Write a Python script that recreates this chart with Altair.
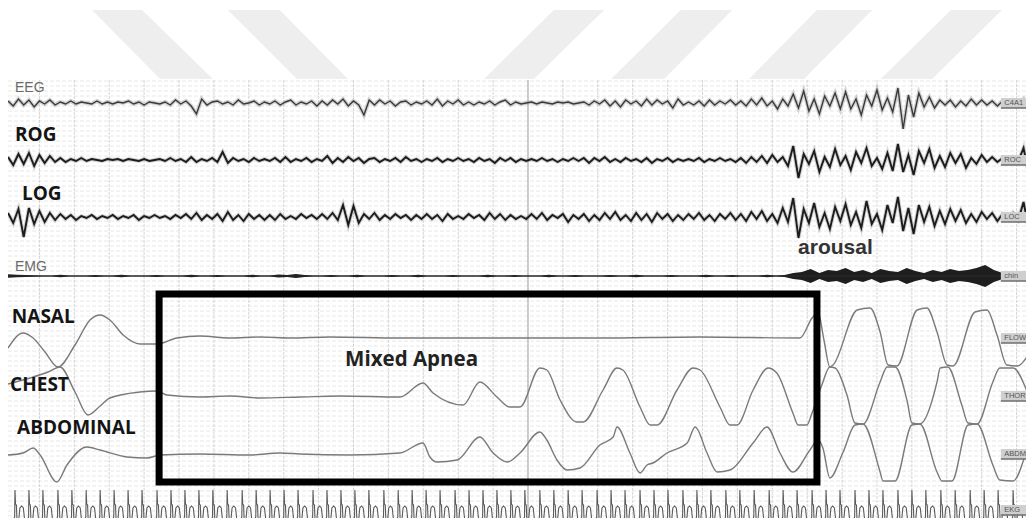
import altair as alt
import pandas as pd

# ---------------------------------------------------------------
# Polysomnography epoch (30 s) showing a mixed apnea with arousal
# x = time in seconds inside the epoch, y = montage position (downwards)
# ---------------------------------------------------------------
X_DOMAIN = [0.1, 29.27]
Y_DOMAIN = [8, 518]
W, H = 1018, 510

# channel baselines on the montage
BASE = {"EEG": 103, "ROG": 160, "LOG": 217, "EMG": 276,
        "NASAL": 338, "CHEST": 396, "ABDM": 454, "ECG": 510}

# fast channels, sampled every 0.15 s starting at 0.1 s (amplitude, up = positive)
FAST_T0, FAST_DT = 0.1, 0.15
EEG = [2, -3, 4, -2, 3, -4, 2, -1, 3, -2,
       1, -1, 2, -1, 1, 0, -1, 2, -1, 1,
       -1, 1, 0, 2, -1, 1, -2, 1, 0, -1,
       1, -2, 3, -1, 2, -3, -11, 4, -2, 1,
       2, -1, 1, -2, 3, -1, 0, 2, -2, 1,
       -1, 2, -2, 1, 3, -2, 1, -1, 2, -3,
       2, -2, 3, -1, 4, -3, 2, -2, -12, 3,
       -2, 3, -1, 2, -3, 1, 2, -2, 1, -1,
       2, -2, 4, -3, 2, -1, 3, -2, 1, -2,
       1, -1, 2, -2, 1, 3, -2, 1, -1, 0,
       1, -1, 1, 0, -1, 1, 0, 1, -1, 0,
       1, -2, 2, -1, 3, -3, 2, -4, 3, -1,
       2, -3, 4, -2, 3, -1, 2, -5, 4, -2,
       1, -2, 2, -3, 3, -2, 2, -1, 3, -2,
       2, -3, 4, -2, 5, -3, 2, -6, 4, -3,
       9, -5, 12, -8, 4, -11, 7, -3, 10, -6,
       11, -6, 4, -12, 8, -3, 13, -7, 5, -9,
       15, -26, 8, -14, 10, -4, 6, -5, 3, -2,
       3, -4, 2, -3, 4, -2, 3, -2, 2, -3,
       2, -3, 3, -1, 4, -8, 3]
ROG = [3, -5, 6, -4, 7, -6, 5, -3, 4, -2,
       2, -2, 1, -1, 2, -1, 1, 0, -1, 1,
       0, 1, -1, 1, 0, -1, 1, -1, 0, 1,
       -1, 2, -1, 1, -2, 3, -2, 1, -1, 2,
       -2, 8, -3, 2, -1, 1, -2, 2, -1, 1,
       -1, 2, -2, 3, -2, 1, -1, 2, -2, 1,
       -1, 4, -3, 2, -2, 3, -1, 2, -3, 1,
       2, -2, 1, -1, 2, -2, 3, -1, 1, -2,
       1, -1, 2, -2, 1, -1, 2, -1, 1, -2,
       2, -1, 1, -3, 2, -1, 2, -2, 1, -1,
       1, -1, 2, -1, 1, -2, 1, -1, 2, -1,
       2, -3, 2, -1, 3, -2, 1, -2, 2, -1,
       1, -2, 2, -3, 1, -1, 2, -2, 1, -1,
       1, -1, 2, -2, 1, -1, 2, -1, 1, -2,
       2, -3, 3, -2, 4, -3, 5, -2, 3, -6,
       14, -18, 6, -4, 9, -12, 3, -7, 11, -5,
       4, -10, 8, -3, 12, -6, 2, -9, 7, -11,
       16, -12, 5, -15, 9, -3, 11, -8, 4, -7,
       7, -3, 6, -8, 2, -4, 5, -2, 3, -2,
       2, -2, 3, -1, 12, -14, 4]
LOG = [4, -6, 8, -20, 9, -7, 6, -5, 4, -3,
       3, -2, 2, -3, 1, -1, 2, -2, 1, -1,
       2, -2, 1, -1, 2, -3, 1, -1, 2, -1,
       1, -2, 2, -1, 3, -2, 4, -3, 2, -2,
       3, -4, 5, -3, 2, -4, 3, -2, 2, -3,
       2, -3, 3, -2, 1, -2, 3, -1, 2, -2,
       3, -2, 4, -3, 12, -8, 11, -6, 3, -2,
       4, -3, 2, -2, 3, -1, 2, -3, 2, -2,
       3, -2, 2, -4, 3, -2, 1, -2, 3, -1,
       2, -3, 4, -2, 3, -3, 2, -2, 1, -2,
       3, -2, 4, -3, 2, -1, 3, -5, 2, -2,
       3, -4, 2, -3, 4, -2, 5, -3, 2, -4,
       4, -3, 3, -5, 4, -2, 3, -4, 2, -3,
       3, -2, 4, -3, 2, -4, 3, -2, 4, -3,
       3, -4, 5, -2, 6, -4, 3, -6, 9, -5,
       19, -21, 8, -6, 14, -10, 4, -12, 10, -4,
       13, -8, 5, -11, 16, -7, 3, -13, 12, -6,
       20, -14, 9, -17, 12, -5, 10, -9, 6, -7,
       8, -4, 7, -6, 3, -5, 5, -2, 4, -4,
       3, -2, 4, -3, 15, -12, 5]

# chin EMG envelope (half amplitude), every 0.25 s from 0.1 s
EMG_T0, EMG_DT = 0.1, 0.25
EMG_ENV = [1.8, 1.2, 0.9, 0.7,
           0.5, 0.5, 1.2, 0.5, 0.5, 0.5, 0.9, 0.5, 0.5, 1.2, 0.5, 0.5, 0.5, 0.9,
           0.5, 0.5, 0.5, 1.2, 0.5, 0.5, 0.9, 0.5, 0.5, 0.5, 1.2, 0.5, 0.5,
           1.6, 1.0, 2.0, 0.9,
           0.5, 0.5, 0.9, 0.5, 0.5, 1.2, 0.5, 0.5, 0.5, 0.9, 0.5, 0.5, 1.2, 0.5,
           0.5, 0.5, 0.9, 0.5, 0.5, 0.5, 1.2, 0.5, 0.5, 0.9, 0.5, 0.5, 0.5, 1.2,
           0.5, 0.5, 0.9, 0.5, 0.5, 0.5, 0.9, 0.5, 0.5, 1.2, 0.5, 0.5, 0.5, 0.9,
           0.5, 0.5, 0.5, 1.2, 0.5, 0.5, 0.9, 0.5, 0.5, 0.5, 1.2, 0.5, 0.9,
           3,
           4, 7, 3, 6, 5, 8, 4, 6, 3, 7, 5, 4, 8, 5, 3, 6, 4, 7, 5, 6,
           8, 11, 6,
           3,
           1.0, 0.8, 0.5, 0.5]

# respiratory channels: turning points (time s, amplitude)
NASAL_T = [0.10, 0.53, 0.82, 1.16, 1.53, 2.02, 2.45, 2.74, 3.02, 3.40, 3.88, 4.37,
           4.94, 5.60, 6.46, 7.32, 8.18, 9.33, 11.33, 14.20, 17.06, 19.93, 22.79,
           23.14, 23.31, 23.48, 23.65, 23.74, 24.43, 24.80, 25.09, 25.32, 25.57,
           26.15, 26.43, 26.72, 27.01, 27.18, 27.81, 28.15, 28.44, 28.72, 29.01, 29.50]
NASAL_V = [-10, 5, 0, -14, -29, -7, 18, 23, 18, 3, -6, -6,
           0, 2, 0, 1, 0, 1, 0, 0, 0, 1, 0,
           20, 26, -2, -29, -27, 28, 30, 6, -27, -28,
           28, 30, 6, -27, -28, 26, 28, 3, -27, -28, -5]
CHEST_T = [0.10, 0.73, 1.25, 1.59, 2.02, 2.39, 2.74, 3.02, 3.88, 4.37, 4.66, 5.60,
           6.46, 7.32, 8.47, 9.61, 11.33, 11.99, 12.28, 13.14, 13.62, 14.11, 14.48,
           14.77, 15.34, 15.54, 15.92, 16.40, 16.58, 17.15, 17.55, 17.72, 18.21,
           18.50, 18.70, 19.27, 19.73, 19.93, 20.50, 20.79, 20.99, 21.45, 21.88,
           22.13, 22.59, 22.74, 22.99, 23.14, 23.42, 23.65, 23.80, 24.14, 24.37,
           24.60, 25.09, 25.29, 25.52, 25.87, 26.00, 26.23, 26.72, 26.81, 27.03,
           27.43, 27.61, 27.87, 28.32, 28.52, 28.90, 29.38, 29.50]
CHEST_V = [12, 18, 24, 29, 4, -19, -10, -2, 4, 5, 1, -1,
           0, -2, -1, 0, -1, 13, 3, -9, 14, -1, -11,
           -11, 28, 26, -4, -26, -26, 6, 28, 26, -11,
           -29, -29, 6, 28, 26, -11, -29, -29, 6, 28,
           23, -17, -29, -29, -17, 11, 29, 28, 1, -27,
           -28, 14, 29, 29, -6, -27, -28, 14, 28, 29,
           -9, -27, -28, 14, 28, 28, -2, -12]
ABDM_T = [0.10, 0.53, 0.82, 1.02, 1.50, 1.79, 2.36, 2.74, 3.51, 4.08, 4.46, 5.60,
          7.03, 7.89, 8.47, 9.90, 11.33, 11.99, 12.19, 12.39, 12.97, 13.62, 14.00,
          14.40, 14.77, 15.34, 15.54, 15.83, 16.12, 16.49, 17.06, 17.44, 17.55,
          17.92, 18.21, 18.41, 18.58, 18.98, 19.56, 19.79, 20.13, 20.42, 20.79,
          21.45, 21.85, 22.22, 22.59, 23.08, 23.31, 23.45, 23.65, 24.03, 24.37,
          24.60, 25.09, 25.17, 25.52, 26.00, 26.23, 26.72, 26.86, 27.15, 27.61,
          27.87, 28.32, 28.52, 28.90, 29.38, 29.50]
ABDM_V = [-1, 1, 6, -1, -28, -11, 7, 4, -3, -4, -1, 0,
          -1, 1, 0, -1, 1, 11, -3, -8, -6, 17, 1,
          -8, 1, 22, 14, -6, -16, -14, 9, 17, 27,
          1, -19, -11, -9, 1, 11, 27, 1, -18, -16,
          11, 27, 1, -18, 4, 14, 6, -24, 2, 29,
          30, -18, -27, -27, 29, 30, -18, -27, -27, 29,
          30, -11, -26, -27, 12, 22]

# ECG: R-peak times (s) and one beat's shape (offset s, amplitude)
ECG_BEATS = [0.30, 0.70, 1.10, 1.53, 1.93, 2.34, 2.74, 3.14, 3.54, 3.94, 4.37, 4.77,
             5.17, 5.57, 5.97, 6.38, 6.81, 7.21, 7.61, 8.01, 8.41, 8.84, 9.24, 9.64,
             10.04, 10.44, 10.87, 11.28, 11.68, 12.08, 12.48, 12.91, 13.31, 13.71,
             14.11, 14.51, 14.91, 15.34, 15.74, 16.15, 16.55, 16.98, 17.38, 17.78,
             18.21, 18.61, 19.01, 19.44, 19.84, 20.24, 20.67, 21.07, 21.48, 21.91,
             22.31, 22.71, 23.14, 23.54, 23.94, 24.37, 24.77, 25.17, 25.60, 26.00,
             26.40, 26.83, 27.24, 27.67, 28.07, 28.47, 28.90, 29.30]
ECG_SHAPE_DT = [-0.04, -0.01, 0.0, 0.015, 0.04, 0.06, 0.10, 0.14, 0.19, 0.24, 0.28, 0.34]
ECG_SHAPE_V = [-9, -7, 20, 6, 5, -12, -13, 2, 4, 2, -11, -11]

# apnea event scored from 4.43 s to 23.28 s (NASAL..ABDOMINAL rows)
APNEA = {"t1": 4.43, "t2": 23.28, "y1": 294, "y2": 482}

# watermark bands (time at top-left/top-right/bottom-left/bottom-right)
WM_TOP_L = [2.51, 6.40, 15.74, 19.38, 23.28, 27.12]
WM_TOP_R = [3.94, 7.89, 17.18, 20.85, 24.86, 28.58]
WM_BOT_L = [4.46, 8.38, 13.74, 17.38, 21.33, 25.11]
WM_BOT_R = [5.97, 9.84, 15.17, 18.90, 22.91, 26.58]
WM_Y = [10, 79]

LEFT_BIG = ["ROG", "LOG", "NASAL", "CHEST", "ABDOMINAL"]
LEFT_BIG_T = [0.30, 0.50, 0.21, 0.16, 0.36]
LEFT_BIG_Y = [135, 194, 317, 385, 428]
LEFT_SMALL = ["EEG", "EMG"]
LEFT_SMALL_T = [0.30, 0.30]
LEFT_SMALL_Y = [88, 267]
RIGHT_TAGS = ["C4A1", "ROC", "LOC", "chin", "FLOW", "THOR", "ABDM", "EKG"]
RIGHT_TAG_Y = [103, 160, 217, 276, 338, 396, 454, 510]

# ---------------------------------------------------------------
xs = alt.Scale(domain=X_DOMAIN, nice=False, zero=False)
ys = alt.Scale(domain=Y_DOMAIN, reverse=True, nice=False, zero=False)


def X(f):
    return alt.X(f, type="quantitative", scale=xs, axis=None)


def Y(f):
    return alt.Y(f, type="quantitative", scale=ys, axis=None)


# watermark
wm_rows = []
for b in range(len(WM_TOP_L)):
    wm_rows.append({"band": b, "y": WM_Y[0], "xl": WM_TOP_L[b], "xr": WM_TOP_R[b]})
    wm_rows.append({"band": b, "y": WM_Y[1], "xl": WM_BOT_L[b], "xr": WM_BOT_R[b]})
watermark = alt.Chart(pd.DataFrame(wm_rows)).mark_area(
    orient="horizontal", color="#eeeeee"
).encode(y=Y("y"), x=X("xl"), x2="xr", detail="band:N")

# chart paper grid
vgrid = alt.Chart(pd.DataFrame({"t": list(range(1, 30))})).mark_rule(
    color="#d6d6d6", strokeWidth=1, strokeDash=[3, 1]
).encode(x=X("t"), y=alt.Y(datum=80, scale=ys, axis=None), y2=alt.datum(518))
center_line = alt.Chart(pd.DataFrame({"t": [15]})).mark_rule(
    color="#b5b5b5", strokeWidth=1.2
).encode(x=X("t"), y=alt.Y(datum=80, scale=ys, axis=None), y2=alt.datum(518))
hgrid = alt.Chart(pd.DataFrame({"y": list(range(81, 518, 5))})).mark_rule(
    color="#e8e8e8", strokeWidth=1, strokeDash=[4, 2]
).encode(y=Y("y"), x=alt.X(datum=X_DOMAIN[0], scale=xs, axis=None), x2=alt.datum(X_DOMAIN[1]))

# fast channels
fast_rows = []
for name, vals in [("EEG", EEG), ("ROG", ROG), ("LOG", LOG)]:
    for i, v in enumerate(vals):
        fast_rows.append({"ch": name, "t": round(FAST_T0 + FAST_DT * i, 3), "y": BASE[name] - v})
fast_df = pd.DataFrame(fast_rows)
fast_halo = alt.Chart(fast_df).mark_line(
    color="#707070", strokeWidth=4, opacity=0.3, clip=True
).encode(x=X("t"), y=Y("y"), detail="ch:N")
eeg_line = alt.Chart(fast_df[fast_df.ch == "EEG"]).mark_line(
    color="#3a3a3a", strokeWidth=1.4, clip=True
).encode(x=X("t"), y=Y("y"))
eog_line = alt.Chart(fast_df[fast_df.ch != "EEG"]).mark_line(
    color="#1c1c1c", strokeWidth=1.9, clip=True
).encode(x=X("t"), y=Y("y"), detail="ch:N")

# EMG
emg_df = pd.DataFrame({
    "t": [round(EMG_T0 + EMG_DT * i, 3) for i in range(len(EMG_ENV))],
    "lo": [BASE["EMG"] - a for a in EMG_ENV],
    "hi": [BASE["EMG"] + a for a in EMG_ENV],
    "mid": [BASE["EMG"]] * len(EMG_ENV),
})
emg_area = alt.Chart(emg_df).mark_area(color="#1e1e1e", clip=True).encode(
    x=X("t"), y=Y("lo"), y2="hi")
emg_base = alt.Chart(emg_df).mark_line(color="#2a2a2a", strokeWidth=1.2, clip=True).encode(
    x=X("t"), y=Y("mid"))

# respiratory
resp_rows = []
for name, ts, vs in [("NASAL", NASAL_T, NASAL_V), ("CHEST", CHEST_T, CHEST_V),
                     ("ABDM", ABDM_T, ABDM_V)]:
    for t, v in zip(ts, vs):
        resp_rows.append({"ch": name, "t": t, "y": BASE[name] - v})
resp = alt.Chart(pd.DataFrame(resp_rows)).mark_line(
    color="#7a7a7a", strokeWidth=1.4, interpolate="monotone", clip=True
).encode(x=X("t"), y=Y("y"), detail="ch:N")

# ECG
ecg_rows = []
for b in ECG_BEATS:
    for dt, v in zip(ECG_SHAPE_DT, ECG_SHAPE_V):
        ecg_rows.append({"t": round(b + dt, 3), "y": BASE["ECG"] - v})
ecg = alt.Chart(pd.DataFrame(ecg_rows)).mark_line(
    color="#5a5a5a", strokeWidth=1.1, clip=True
).encode(x=X("t"), y=Y("y"))

# apnea box
box = alt.Chart(pd.DataFrame([APNEA])).mark_rect(
    fillOpacity=0, stroke="#000000", strokeWidth=7
).encode(x=X("t1"), x2="t2", y=Y("y1"), y2="y2")

# right-side channel tags
tags_df = pd.DataFrame({"tag": RIGHT_TAGS, "y": RIGHT_TAG_Y,
                        "y1": [v - 5 for v in RIGHT_TAG_Y], "y2": [v + 5 for v in RIGHT_TAG_Y],
                        "t1": [28.55] * len(RIGHT_TAGS), "t2": [29.27] * len(RIGHT_TAGS),
                        "tt": [28.65] * len(RIGHT_TAGS)})
tag_box = alt.Chart(tags_df).mark_rect(color="#cfcfcf").encode(
    x=X("t1"), x2="t2", y=Y("y1"), y2="y2")
tag_line = alt.Chart(tags_df).mark_rule(color="#6e6e6e", strokeWidth=1.5).encode(
    x=X("t1"), x2="t2", y=Y("y2"))
tag_text = alt.Chart(tags_df).mark_text(
    align="left", baseline="middle", fontSize=7.5, font="Liberation Sans", color="#555555"
).encode(x=X("tt"), y=Y("y"), text="tag:N")

# labels
big_df = pd.DataFrame({"txt": LEFT_BIG, "t": LEFT_BIG_T, "y": LEFT_BIG_Y})
big_txt = alt.Chart(big_df).mark_text(
    align="left", baseline="middle", font="Open Sans", fontWeight="bold",
    fontSize=19, color="#141414"
).encode(x=X("t"), y=Y("y"), text="txt:N")
small_df = pd.DataFrame({"txt": LEFT_SMALL, "t": LEFT_SMALL_T, "y": LEFT_SMALL_Y})
small_txt = alt.Chart(small_df).mark_text(
    align="left", baseline="middle", font="Liberation Sans",
    fontSize=14, color="#6a6a6a"
).encode(x=X("t"), y=Y("y"), text="txt:N")
apnea_txt = alt.Chart(pd.DataFrame({"txt": ["Mixed Apnea"], "t": [9.76], "y": [360]})).mark_text(
    align="left", baseline="middle", font="Open Sans", fontWeight="bold",
    fontSize=20.5, color="#222222"
).encode(x=X("t"), y=Y("y"), text="txt:N")
arousal_txt = alt.Chart(pd.DataFrame({"txt": ["arousal"], "t": [22.74], "y": [248]})).mark_text(
    align="left", baseline="middle", font="Liberation Sans", fontWeight="bold",
    fontSize=21, color="#333333"
).encode(x=X("t"), y=Y("y"), text="txt:N")

chart = alt.layer(
    watermark, hgrid, vgrid, center_line,
    fast_halo, eeg_line, eog_line, emg_area, emg_base, resp, ecg,
    box, tag_box, tag_line, tag_text,
    big_txt, small_txt, apnea_txt, arousal_txt,
).properties(
    width=W, height=H, padding=0, autosize=alt.AutoSizeParams(type="none"),
    background="white",
).configure_view(stroke=None)

chart.save("out.html", embed_options={"renderer": "svg", "actions": False})
